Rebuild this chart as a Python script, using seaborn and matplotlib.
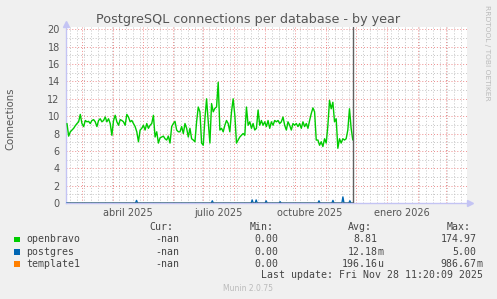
import numpy as np
import pandas as pd
import matplotlib
matplotlib.use("Agg")
import matplotlib.pyplot as plt
import matplotlib.dates as mdates
import matplotlib.transforms as mtransforms
from matplotlib.patches import Rectangle
from matplotlib.ticker import MultipleLocator, NullFormatter
import seaborn as sns

W, H = 497, 299

# ---------------- data ----------------
title = "PostgreSQL connections per database - by year"
y_label = "Connections"
series_names = ["openbravo", "postgres", "template1"]
series_colors = ["#00CC00", "#0066B3", "#FF8000"]

openbravo_start = "2025-02-14 06:00"
openbravo_step = "40h"
openbravo_values = [
    9.15, 7.7, 8.2, 8.4, 8.6, 8.9, 9.15, 9.35, 10.2, 9.15,
    8.8, 9.5, 9.35, 9.4, 9.15, 9.5, 9.6, 9.35, 8.8, 9.5,
    9.7, 9.35, 9.5, 9.9, 9.35, 9.7, 9.15, 7.8, 9.5, 10.1,
    9.35, 8.95, 9.6, 9.5, 9.35, 8.95, 10.2, 9.9, 9.35, 9.5,
    9.15, 8.8, 8.2, 7.05, 8.4, 8.6, 8.95, 8.4, 9.15, 8.6,
    8.95, 9.15, 10.1, 7.6, 8.2, 6.9, 7.5, 7.6,
    7.7, 7.4, 7.25, 7.7, 6.9, 8.8, 9.15, 9.4, 8.4, 8.2,
    8.2, 8.8, 8.0, 9.15, 8.6, 7.6, 8.6, 7.4, 7.25, 7.05,
    9.35, 11.05, 10.5, 6.9, 6.65, 9.7, 12.0, 9.35, 6.9, 11.45,
    10.5, 10.9, 11.05, 13.9, 8.4, 8.6, 8.2, 8.95, 9.5, 9.15,
    8.2, 10.5, 12.0, 10.1, 6.9, 7.25, 7.6, 7.8, 8.0, 7.8,
    11.05, 8.95, 9.35, 8.6, 9.15, 8.4, 8.6, 10.7,
    8.95, 9.5, 8.95, 9.35, 8.8, 9.5, 8.6, 9.35, 8.95, 9.5,
    9.35, 9.5, 9.15, 9.35, 9.9, 8.95, 8.4, 9.35, 8.95, 8.4,
    9.15, 8.95, 9.15, 8.8, 9.15, 8.6, 9.35, 8.8, 9.15, 8.6,
    9.5, 10.3, 10.95, 10.5, 7.25, 7.25, 6.65, 7.05, 6.5, 7.4,
    6.9, 8.95, 11.8, 10.85, 11.6, 9.35, 9.7, 6.3, 7.4, 6.9,
    7.4, 7.25, 7.4, 8.4, 10.85, 8.6, 7.25,
]

daily_start, daily_end = "2025-02-14", "2025-11-28"
postgres_spike_dates = ["2025-04-25", "2025-07-10", "2025-08-19", "2025-08-23",
                        "2025-09-02", "2025-09-16", "2025-10-25", "2025-11-08",
                        "2025-11-18", "2025-11-25"]
postgres_spike_values = [0.3, 0.25, 0.35, 0.35, 0.25, 0.15, 0.25, 0.3, 0.7, 0.25]
template1_value = 0.0

now_time = "2025-11-28 11:20"
x_start, x_end = "2025-02-13 06:00", "2026-03-22 11:00"
x_label_dates = ["2025-04-16", "2025-07-16", "2025-10-16", "2026-01-16"]
x_label_texts = ["abril 2025", "julio 2025", "octubre 2025", "enero 2026"]
y_max = 20

col_headers = ["Cur:", "Min:", "Avg:", "Max:"]
cur_vals = [("-nan", ""), ("-nan", ""), ("-nan", "")]
min_vals = [("0.00", ""), ("0.00", ""), ("0.00", "")]
avg_vals = [("8.81", ""), ("12.18", "m"), ("196.16", "u")]
max_vals = [("174.97", ""), ("5.00", ""), ("986.67", "m")]
last_update = "Last update: Fri Nov 28 11:20:09 2025"
footer = "Munin 2.0.75"
side_text = "RRDTOOL / TOBI OETIKER"

# ---------------- build tables ----------------
ob = pd.DataFrame({
    "time": pd.date_range(openbravo_start, periods=len(openbravo_values), freq=openbravo_step),
    "value": openbravo_values,
})
days = pd.date_range(daily_start, daily_end, freq="D")
pg_series = pd.Series(0.0, index=days)
pg_series.loc[pd.to_datetime(postgres_spike_dates)] = postgres_spike_values
pg = pd.DataFrame({"time": days, "value": pg_series.values})
t1 = pd.DataFrame({"time": days, "value": np.full(len(days), template1_value)})

# ---------------- figure ----------------
sns.set_style("white")
plt.rcParams["font.family"] = ["DejaVu Sans"]

fig = plt.figure(figsize=(W / 100, H / 100), dpi=100, facecolor="#F0F0F0")

def fx(px):
    return px / W

def fy(py):
    return 1 - py / H

ax_left, ax_right, ax_top, ax_bottom = 66, 467, 26.7, 203
ax = fig.add_axes([fx(ax_left), fy(ax_bottom), (ax_right - ax_left) / W, (ax_bottom - ax_top) / H])
ax.set_facecolor("white")

for df, col in zip([ob, pg, t1], series_colors):
    sns.lineplot(data=df, x="time", y="value", ax=ax, color=col, linewidth=1.0,
                 estimator=None, legend=False)

ax.axvline(pd.Timestamp(now_time), color="#606060", linewidth=1.0, zorder=5)

ax.set_xlim(pd.Timestamp(x_start), pd.Timestamp(x_end))
ax.set_ylim(0, y_max * 1.015)

ax.xaxis.set_major_locator(mdates.MonthLocator())
ax.xaxis.set_minor_locator(mdates.WeekdayLocator(byweekday=mdates.MO))
ax.xaxis.set_major_formatter(NullFormatter())
ax.xaxis.set_minor_formatter(NullFormatter())
ax.yaxis.set_major_locator(MultipleLocator(2))
ax.yaxis.set_minor_locator(MultipleLocator(1))

ax.grid(which="minor", color="#C4C4C4", linestyle=(0, (1, 2)), linewidth=0.7)
ax.grid(which="major", color="#EE8C8C", linestyle=(0, (1, 2)), linewidth=0.7)
ax.set_axisbelow(True)

ax.tick_params(axis="y", which="major", length=2.5, color="#EE8C8C", labelsize=7,
               labelcolor="#555555", pad=2)
ax.tick_params(axis="y", which="minor", length=0)
ax.tick_params(axis="x", which="major", length=2, color="#EE8C8C")
ax.tick_params(axis="x", which="minor", length=0)
ax.set_xlabel("")
ax.set_ylabel("")

for s in ["top", "right"]:
    ax.spines[s].set_visible(False)
for s in ["left", "bottom"]:
    ax.spines[s].set_color("#C4C4F4")
    ax.spines[s].set_linewidth(1.0)
    ax.spines[s].set_zorder(1)

# axis arrows
ax.plot([fx(ax_left)], [fy(23.5)], marker="^", ms=4, color="#C4C4F4",
        transform=fig.transFigure, clip_on=False)
ax.plot([fx(470)], [fy(ax_bottom)], marker=">", ms=4, color="#C4C4F4",
        transform=fig.transFigure, clip_on=False)

# x labels
blend = mtransforms.blended_transform_factory(ax.transData, fig.transFigure)
for d, t in zip(x_label_dates, x_label_texts):
    ax.text(mdates.date2num(pd.Timestamp(d)), fy(212.7), t, transform=blend,
            ha="center", va="center", fontsize=7, color="#555555")

# titles and side texts
fig.text(fx(248), fy(19), title, ha="center", va="center", fontsize=9.2, color="#555555")
fig.text(fx(10), fy(119), y_label, rotation=90, ha="center", va="center",
         fontsize=7.3, color="#555555")
fig.text(fx(487.5), fy(53), side_text, rotation=270, ha="center", va="center",
         fontsize=5.4, color="#BBBBBB")
fig.text(fx(248), fy(288.3), footer, ha="center", va="center", fontsize=5.5, color="#BBBBBB")

# legend
mono = "DejaVu Sans Mono"
lg_size = 7.1
txt_col = "#444444"
header_x = [149.3, 249.3, 348.3, 446.7]
col_end = [179, 278.3, 377.8, 476.7]
for hx, h in zip(header_x, col_headers):
    fig.text(fx(hx), fy(227.5), h, ha="left", va="center", family=mono, fontsize=lg_size,
             color=txt_col)
row_y = [239.5, 251.8, 263.8]
for i, (name, col) in enumerate(zip(series_names, series_colors)):
    yy = row_y[i]
    fig.add_artist(Rectangle((fx(14), fy(yy + 2.8)), 5.6 / W, 5.6 / H,
                             transform=fig.transFigure, facecolor=col, edgecolor="none"))
    fig.text(fx(26), fy(yy), name, ha="left", va="center", family=mono, fontsize=lg_size,
             color=txt_col)
    for ce, vals in zip(col_end, [cur_vals, min_vals, avg_vals, max_vals]):
        num, unit = vals[i]
        fig.text(fx(ce), fy(yy), num, ha="right", va="center", family=mono,
                 fontsize=lg_size, color=txt_col)
        if unit:
            fig.text(fx(ce), fy(yy), unit, ha="left", va="center", family=mono,
                     fontsize=lg_size, color=txt_col)
fig.text(fx(482.7), fy(275.3), last_update, ha="right", va="center", family=mono,
         fontsize=lg_size, color=txt_col)

fig.savefig("out.png", dpi=100, facecolor=fig.get_facecolor())
